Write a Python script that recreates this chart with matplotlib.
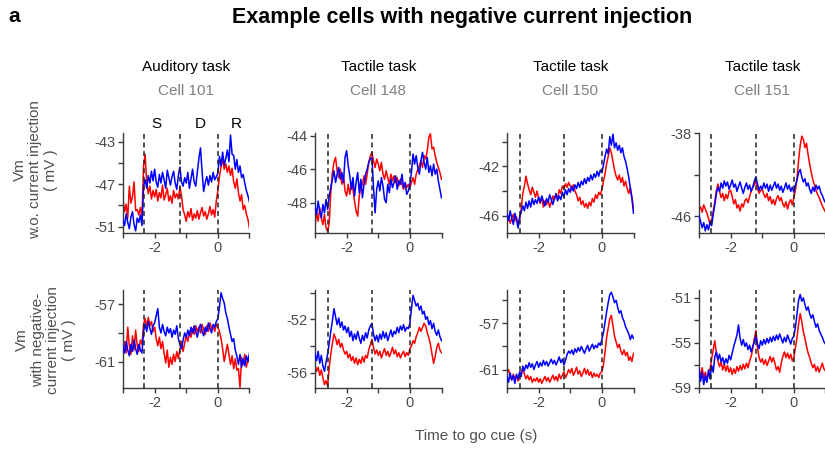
import numpy as np
import matplotlib
matplotlib.use("Agg")
import matplotlib.pyplot as plt

plt.rcParams['font.family'] = ['Liberation Sans', 'DejaVu Sans']
plt.rcParams['axes.unicode_minus'] = False

# ---------------- data ----------------
time_start, time_step = -3.0, 0.05

tasks = ["Auditory task", "Tactile task", "Tactile task", "Tactile task"]
cells = ["Cell 101", "Cell 148", "Cell 150", "Cell 151"]
event_times = [[-2.35, -1.2, 0.0], [-2.6, -1.2, 0.0], [-2.6, -1.2, 0.0], [-2.62, -1.2, 0.0]]
epoch_labels = ["S", "D", "R"]
epoch_label_x = [-1.93, -0.57, 0.59]

xticks = [-3, -2, -1, 0, 1]
xticklabels = ["", "-2", "", "0", ""]

# y-limits / ticks per panel [row][col]
ylims = [[(-51.6, -42.2), (-49.8, -43.85), (-47.4, -39.3), (-47.6, -38.0)],
         [(-62.85, -56.0), (-57.15, -49.8), (-62.6, -54.1), (-59.0, -50.3)]]
yticks = [[[-51, -49, -47, -45, -43], [-48, -46, -44], [-46, -44, -42, -40], [-46, -42, -38]],
          [[-61, -59, -57], [-56, -54, -52, -50], [-61, -59, -57, -55], [-59, -57, -55, -53, -51]]]
ytick_labeled = [[[-51, -47, -43], [-48, -46, -44], [-46, -42], [-46, -38]],
                 [[-61, -57], [-56, -52], [-61, -57], [-59, -55, -51]]]

# Row 1: without current injection (red / blue traces)
red_11 = [-48.4, -49.6, -48.9, -50.2, -47.2, -48.8, -48.2, -46.8, -49.5, -49.4,
          -49.9, -49.2, -50.1, -45.3, -44.2, -46.8, -47.9, -47.2, -48.4, -47.6,
          -48.2, -47.5, -48.6, -47.8, -48.3, -47.1, -48.5, -48.0, -47.4, -48.6,
          -48.1, -48.8, -47.6, -48.3, -47.9, -48.4, -47.3, -48.1, -49.4, -49.9,
          -50.5, -49.6, -50.1, -49.3, -50.4, -49.8, -50.2, -49.5, -50.3, -49.7,
          -49.2, -50.0, -49.6, -50.3, -49.8, -49.1, -49.9, -49.4, -50.1, -48.6,
          -47.6, -46.3, -45.4, -44.6, -45.6, -45.1, -45.9, -45.3, -46.2, -45.5,
          -46.8, -47.4, -46.5, -47.8, -48.6, -48.0, -49.4, -49.0, -49.8, -50.3, -51.2]
blue_11 = [-50.4, -50.9, -49.8, -50.6, -51.2, -50.1, -49.6, -50.8, -51.4, -50.2,
           -50.6, -49.9, -50.9, -47.2, -46.6, -47.4, -46.2, -46.9, -45.8, -46.7,
           -45.6, -46.8, -47.3, -46.1, -46.9, -45.9, -46.6, -47.4, -45.7, -46.4,
           -47.1, -46.3, -45.8, -46.9, -47.5, -46.2, -45.4, -46.8, -47.2, -46.4,
           -46.9, -45.9, -47.4, -46.5, -45.6, -46.8, -47.2, -45.9, -44.6, -43.6,
           -45.8, -47.7, -46.9, -46.3, -47.1, -46.2, -46.8, -45.9, -46.6, -46.3,
           -46.0, -44.4, -45.3, -44.0, -45.2, -44.6, -43.8, -44.9, -42.4, -44.2,
           -44.3, -45.6, -44.7, -45.9, -45.3, -46.4, -46.1, -46.9, -47.6, -48.1, -48.7]

red_12 = [-49.4, -48.6, -49.1, -48.3, -48.9, -49.3, -48.7, -49.5, -49.7, -49.2,
          -47.4, -46.2, -45.6, -45.3, -46.1, -46.5, -46.0, -46.9, -46.4, -47.3,
          -47.6, -46.9, -47.5, -46.8, -47.2, -47.9, -48.5, -48.8, -47.6, -47.1,
          -46.9, -46.4, -46.9, -46.3, -45.6, -45.2, -45.0, -45.5, -45.9, -45.4,
          -45.7, -46.1, -45.6, -46.3, -46.6, -46.1, -46.5, -46.9, -46.3, -46.7,
          -46.4, -46.8, -46.5, -47.0, -46.6, -46.9, -47.2, -46.8, -47.1, -46.9,
          -47.1, -46.8, -46.5, -46.9, -46.3, -46.0, -45.8, -45.5, -45.9, -45.2,
          -45.4, -44.9, -44.1, -43.9, -44.8, -44.7, -45.2, -45.6, -45.9, -46.2, -46.6]
blue_12 = [-48.2, -48.7, -47.9, -48.5, -48.9, -48.1, -48.6, -47.8, -48.4, -47.6,
           -47.1, -46.6, -46.1, -46.8, -46.3, -45.9, -46.6, -46.2, -46.8, -45.3,
           -44.9, -45.8, -46.4, -47.2, -46.5, -47.6, -46.8, -46.2, -47.4, -46.6,
           -47.7, -46.9, -46.3, -46.0, -45.6, -45.4, -45.3, -47.1, -48.6, -47.2,
           -46.7, -47.3, -46.5, -47.0, -47.8, -48.0, -46.9, -47.4, -46.6, -47.1,
           -46.8, -46.4, -47.2, -46.7, -46.9, -46.3, -47.1, -46.8, -47.5, -47.3,
           -46.9, -46.2, -45.1, -45.7, -45.2, -45.9, -46.3, -45.5, -45.0, -45.6,
           -46.0, -45.3, -46.2, -45.8, -46.4, -45.7, -46.3, -46.0, -46.7, -47.2, -47.7]

red_13 = [-46.5, -46.0, -46.6, -46.2, -45.9, -46.4, -46.1, -46.7, -46.3, -45.4,
          -44.2, -43.6, -42.8, -43.4, -43.9, -44.3, -43.7, -44.1, -44.5, -44.0,
          -44.6, -45.0, -44.5, -45.3, -44.8, -45.1, -44.7, -45.3, -44.9, -44.4,
          -44.7, -44.3, -44.6, -43.9, -44.2, -43.6, -43.8, -43.4, -43.7, -43.3,
          -43.6, -43.9, -43.5, -44.0, -44.3, -44.8, -44.5, -45.1, -44.8, -45.3,
          -45.0, -45.4, -44.9, -45.2, -44.6, -44.9, -44.3, -44.6, -44.1, -44.3,
          -43.9, -43.2, -42.6, -41.8, -41.2, -40.5, -40.9, -41.6, -42.3, -42.8,
          -43.1, -42.7, -43.3, -42.9, -43.6, -43.2, -43.8, -44.2, -43.7, -44.5, -45.4]
blue_13 = [-45.9, -46.4, -45.6, -46.2, -46.7, -45.8, -46.3, -47.0, -46.1, -45.7,
           -45.2, -45.6, -44.9, -45.4, -44.8, -45.3, -44.6, -45.1, -44.7, -45.0,
           -44.5, -44.9, -44.4, -44.8, -45.2, -44.6, -44.9, -44.3, -44.7, -45.1,
           -44.6, -44.2, -44.8, -44.4, -44.7, -44.1, -44.5, -43.9, -44.3, -43.8,
           -44.1, -43.6, -44.0, -43.5, -43.8, -43.3, -43.7, -43.2, -43.5, -43.0,
           -43.4, -42.9, -43.2, -42.7, -43.1, -42.6, -42.9, -42.4, -42.8, -42.3,
           -42.5, -41.9, -41.2, -40.6, -41.0, -39.6, -40.3, -39.4, -40.5, -40.1,
           -40.7, -40.3, -40.9, -40.5, -41.2, -41.6, -42.2, -42.9, -43.8, -44.6, -45.8]

red_14 = [-45.4, -45.1, -45.6, -44.9, -45.3, -45.7, -46.2, -46.8, -46.4, -45.5,
          -44.6, -43.5, -42.9, -43.6, -44.2, -43.8, -44.5, -43.9, -44.3, -43.6,
          -43.5, -44.1, -44.8, -44.4, -45.2, -44.9, -45.5, -44.8, -45.1, -44.5,
          -44.3, -44.7, -44.1, -43.6, -43.2, -43.0, -42.6, -43.3, -43.8, -43.5,
          -43.4, -43.9, -44.2, -43.8, -44.5, -44.1, -44.8, -44.4, -44.9, -44.3,
          -44.0, -44.5, -44.2, -44.8, -45.1, -44.6, -45.3, -44.7, -44.4, -44.9,
          -44.2, -43.5, -42.3, -40.6, -39.2, -38.3, -38.6, -39.4, -39.0, -40.1,
          -41.0, -41.8, -42.5, -43.0, -43.5, -43.9, -44.2, -44.6, -45.0, -45.3, -45.6]
blue_14 = [-45.9, -46.5, -47.1, -46.6, -47.4, -46.8, -47.3, -46.5, -46.9, -45.8,
           -44.9, -43.8, -43.2, -43.6, -42.8, -43.3, -42.6, -43.1, -42.7, -43.4,
           -43.0, -42.5, -43.2, -42.9, -43.6, -43.1, -42.7, -43.3, -43.8, -43.2,
           -42.8, -43.4, -43.0, -43.6, -43.2, -42.6, -42.2, -42.9, -43.5, -43.1,
           -43.4, -42.8, -43.3, -42.9, -43.6, -43.0, -43.5, -43.1, -42.7, -43.3,
           -42.9, -43.5, -43.1, -43.7, -43.3, -42.8, -43.4, -43.0, -43.6, -43.2,
           -43.7, -43.0, -42.5, -41.8, -41.5, -42.2, -42.7, -42.4, -43.1, -42.8,
           -43.4, -43.8, -43.2, -43.6, -43.0, -43.4, -43.1, -43.7, -44.0, -44.4, -44.7]

# Row 2: with negative current injection
red_21 = [-60.1, -59.6, -60.4, -58.6, -59.9, -60.5, -59.2, -60.2, -58.8, -59.9,
          -60.3, -59.5, -59.8, -58.4, -58.0, -58.6, -57.9, -58.5, -58.2, -58.9,
          -58.6, -59.4, -59.9, -59.3, -60.1, -59.6, -60.4, -61.1, -60.2, -61.4,
          -60.7, -61.2, -60.5, -61.0, -60.3, -60.8, -60.1, -59.6, -60.3, -59.7,
          -59.2, -59.6, -58.9, -59.3, -58.7, -59.1, -58.5, -58.9, -58.6, -59.0,
          -58.4, -58.8, -59.1, -58.5, -58.9, -58.3, -58.7, -58.5, -58.9, -58.4,
          -58.6, -58.9, -59.4, -60.1, -61.0, -60.4, -59.8, -60.5, -61.2, -60.6,
          -61.5, -60.8, -61.6, -61.5, -62.8, -60.7, -61.2, -60.5, -61.4, -60.8, -61.1]
blue_21 = [-59.9, -60.4, -59.6, -60.2, -60.6, -59.8, -60.3, -59.5, -60.1, -60.5,
           -59.8, -60.2, -60.4, -58.9, -58.4, -58.9, -58.2, -58.7, -59.1, -58.5,
           -58.3, -57.8, -57.3, -58.6, -59.0, -58.4, -58.9, -59.2, -58.6, -59.0,
           -58.7, -59.3, -58.8, -59.1, -58.5, -59.4, -59.8, -60.1, -59.5, -59.0,
           -59.3, -58.8, -59.2, -58.6, -59.0, -58.5, -58.9, -59.3, -58.7, -58.4,
           -58.9, -59.2, -58.6, -58.9, -58.3, -58.7, -59.0, -58.4, -58.6, -58.2,
           -58.0, -57.2, -56.2, -56.6, -56.9, -57.6, -58.0, -58.6, -59.1, -59.6,
           -59.4, -60.2, -60.6, -61.2, -60.5, -61.4, -60.8, -61.3, -60.6, -61.0, -60.4]

red_22 = [-55.4, -55.9, -55.6, -56.2, -55.8, -56.4, -56.9, -56.6, -57.0, -55.6,
          -54.6, -53.8, -53.1, -53.4, -53.9, -53.5, -54.1, -53.8, -54.3, -54.6,
          -54.4, -54.9, -54.6, -55.1, -54.8, -55.3, -54.9, -55.4, -55.0, -55.3,
          -54.8, -55.2, -54.7, -54.9, -54.3, -53.9, -53.5, -54.1, -54.6, -54.3,
          -54.7, -54.4, -54.9, -54.5, -54.2, -54.7, -54.4, -54.8, -54.5, -54.1,
          -54.6, -54.3, -54.8, -54.5, -54.9, -54.6, -54.4, -54.8, -54.5, -54.7,
          -54.2, -54.0, -53.6, -53.8, -53.3, -53.0, -52.6, -52.9, -52.6, -52.3,
          -52.5, -53.0, -53.4, -53.9, -54.6, -55.3, -54.8, -54.1, -53.8, -54.3, -54.5]
blue_22 = [-54.6, -55.1, -54.4, -55.3, -54.7, -55.5, -55.9, -55.2, -54.6, -53.8,
           -52.9, -52.1, -51.2, -51.8, -52.4, -51.9, -52.6, -52.2, -52.8, -52.5,
           -53.0, -52.6, -53.3, -52.9, -53.6, -53.1, -53.5, -52.9, -53.4, -53.8,
           -53.2, -53.6, -53.0, -53.4, -52.8, -52.5, -52.3, -53.1, -53.6, -53.2,
           -53.7, -53.1, -53.5, -52.9, -53.4, -53.0, -53.6, -53.2, -52.8, -53.3,
           -52.9, -53.1, -52.6, -53.0, -52.5, -52.8, -52.4, -52.9, -52.6, -52.7,
           -52.3, -51.2, -50.2, -50.6, -51.0, -50.8, -51.3, -51.0, -51.6, -51.4,
           -52.0, -51.8, -52.4, -52.1, -52.7, -52.3, -52.9, -53.2, -52.8, -53.3, -53.6]

red_23 = [-61.3, -61.0, -61.6, -61.9, -61.4, -61.8, -61.5, -62.0, -61.7, -61.2,
          -60.9, -61.4, -61.8, -61.5, -61.9, -61.6, -62.1, -61.8, -62.0, -61.7,
          -62.1, -61.8, -62.2, -61.9, -61.6, -62.0, -61.7, -62.1, -61.8, -61.5,
          -61.9, -61.6, -62.0, -61.4, -61.8, -61.5, -61.2, -61.7, -61.4, -61.0,
          -61.3, -60.9, -61.5, -61.2, -60.8, -61.4, -61.1, -61.6, -61.3, -60.9,
          -61.4, -61.0, -61.5, -61.2, -61.7, -61.3, -61.6, -61.4, -61.7, -61.3,
          -61.2, -60.6, -59.5, -58.2, -57.4, -56.6, -56.3, -57.2, -58.1, -58.6,
          -59.1, -58.8, -59.4, -59.7, -59.3, -59.8, -59.5, -60.2, -59.9, -60.3, -59.6]
blue_23 = [-61.6, -62.1, -61.3, -61.9, -61.5, -62.2, -61.4, -61.8, -61.2, -61.6,
           -60.7, -61.1, -60.6, -60.9, -60.4, -60.8, -60.5, -61.0, -60.6, -60.3,
           -60.8, -60.4, -60.7, -60.2, -60.6, -60.3, -60.7, -60.4, -60.1, -60.5,
           -60.2, -60.6, -60.3, -59.9, -60.4, -60.1, -60.6, -60.2, -59.7, -59.4,
           -59.6, -59.3, -59.7, -59.2, -59.5, -59.1, -59.4, -59.0, -59.3, -59.6,
           -59.2, -58.9, -59.4, -59.1, -58.8, -59.2, -58.9, -59.1, -58.7, -58.9,
           -58.4, -57.8, -56.9, -56.0, -55.2, -54.5, -54.3, -54.7, -55.2, -55.0,
           -55.6, -56.1, -55.9, -56.5, -56.8, -57.3, -57.6, -57.9, -58.4, -58.0, -58.3]

red_24 = [-57.4, -57.9, -57.2, -58.1, -57.6, -58.3, -57.7, -57.3, -56.4, -55.6,
          -54.8, -55.9, -56.6, -57.1, -56.7, -57.4, -56.9, -57.5, -57.0, -57.6,
          -57.2, -57.8, -57.3, -57.7, -57.1, -57.5, -57.0, -57.4, -56.9, -57.3,
          -56.8, -57.2, -56.6, -56.2, -55.5, -54.6, -53.9, -55.4, -56.3, -56.7,
          -56.4, -56.9, -56.5, -57.0, -56.6, -56.2, -56.7, -56.3, -56.8, -57.4,
          -57.1, -57.6, -56.8, -56.2, -55.8, -56.3, -55.9, -56.4, -56.0, -56.6,
          -56.3, -55.4, -54.5, -53.3, -52.4, -53.1, -54.0, -54.6, -55.3, -55.9,
          -56.3, -56.8, -57.2, -56.9, -57.5, -57.1, -57.6, -57.2, -56.8, -57.3, -57.5]
blue_24 = [-57.3, -58.4, -57.6, -58.7, -57.9, -58.5, -57.4, -58.2, -57.0, -57.6,
           -56.2, -55.8, -56.5, -56.0, -56.7, -56.3, -56.9, -56.4, -56.8, -56.1,
           -56.5, -55.9, -55.3, -54.8, -54.3, -53.4, -54.6, -55.2, -54.7, -55.3,
           -55.0, -55.6, -55.2, -55.8, -55.3, -54.9, -54.4, -55.1, -55.5, -54.8,
           -55.2, -54.7, -55.1, -54.6, -55.0, -54.5, -54.9, -54.4, -54.8, -54.3,
           -54.7, -54.2, -54.6, -55.0, -54.5, -54.9, -54.3, -54.7, -55.1, -54.6,
           -54.4, -53.6, -52.4, -51.2, -50.7, -51.3, -51.0, -51.6, -52.1, -51.8,
           -52.4, -52.8, -52.5, -53.1, -53.6, -53.3, -53.9, -54.2, -54.5, -54.9, -55.1]

red_traces = [[red_11, red_12, red_13, red_14], [red_21, red_22, red_23, red_24]]
blue_traces = [[blue_11, blue_12, blue_13, blue_14], [blue_21, blue_22, blue_23, blue_24]]

row_labels = ["Vm\nw.o. current injection\n( mV )",
              "Vm\nwith negative-\ncurrent injection\n( mV )"]

# ---------------- figure ----------------
W, H = 825, 450
fig = plt.figure(figsize=(W / 100, H / 100), dpi=100)

col_left_px = [123, 315, 507, 699]
ax_w_px = 126.5
row_top_px = [133, 290]
row_bot_px = [233, 388]

spine_col = "#3a3a3a"
tick_col = "#4a4a4a"

for r in range(2):
    for c in range(4):
        left = col_left_px[c] / W
        bottom = 1 - row_bot_px[r] / H
        height = (row_bot_px[r] - row_top_px[r]) / H
        ax = fig.add_axes([left, bottom, ax_w_px / W, height])
        red = np.asarray(red_traces[r][c])
        blue = np.asarray(blue_traces[r][c])
        t = time_start + time_step * np.arange(len(red))
        ax.plot(t, red, color="#ff0000", lw=1.1, zorder=2)
        ax.plot(t, blue, color="#0000ff", lw=1.1, zorder=3)
        for ev in event_times[c]:
            ax.axvline(ev, color="#222222", lw=1.1, dashes=(3.2, 2.4), zorder=4)
        ax.set_xlim(-3, 1)
        ax.set_ylim(*ylims[r][c])
        ax.set_xticks(xticks)
        ax.set_xticklabels(xticklabels)
        yt = yticks[r][c]
        ax.set_yticks(yt)
        ax.set_yticklabels([str(v) if v in ytick_labeled[r][c] else "" for v in yt])
        for s in ["top", "right"]:
            ax.spines[s].set_visible(False)
        for s in ["left", "bottom"]:
            ax.spines[s].set_color(spine_col)
            ax.spines[s].set_linewidth(1.0)
        ax.tick_params(direction="out", length=3.5, width=1.0, color=spine_col,
                       labelsize=10.5, labelcolor=tick_col, pad=2)
        if r == 0:
            cx = (col_left_px[c] + ax_w_px / 2) / W
            fig.text(cx, 1 - 67 / H, tasks[c], ha="center", va="center",
                     fontsize=11, color="black")
            fig.text(cx, 1 - 91 / H, cells[c], ha="center", va="center",
                     fontsize=11, color="#808080")
        if r == 0 and c == 0:
            for lab, lx in zip(epoch_labels, epoch_label_x):
                ax.text(lx, 1.09, lab, transform=ax.get_xaxis_transform(),
                        ha="center", va="center", fontsize=11, color="black")

fig.text(35.5 / W, 1 - 170 / H, row_labels[0], rotation=90, ha="center", va="center",
         multialignment="center", fontsize=11, color="#505050", linespacing=1.15)
fig.text(45.5 / W, 1 - 340 / H, row_labels[1], rotation=90, ha="center", va="center",
         multialignment="center", fontsize=11, color="#505050", linespacing=1.15)

fig.text(476 / W, 1 - 436 / H, "Time to go cue (s)", ha="center", va="center",
         fontsize=11, color="#505050")
fig.text(462 / W, 1 - 17 / H, "Example cells with negative current injection",
         ha="center", va="center", fontsize=15.5, fontweight="bold", color="black")
fig.text(14 / W, 1 - 17 / H, "a", ha="center", va="center",
         fontsize=15, fontweight="bold", color="black")

fig.savefig("out.png", dpi=100)
